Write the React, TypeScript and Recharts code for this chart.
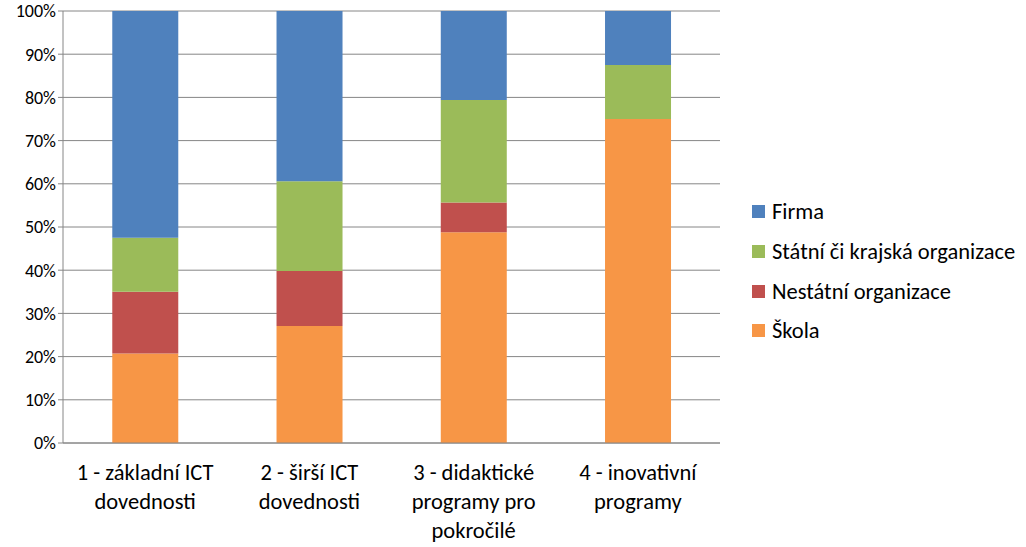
import { Bar, BarChart, CartesianGrid, XAxis, YAxis } from "recharts";

const categories = [
  ["1 - základní ICT", "dovednosti"],
  ["2 - širší ICT", "dovednosti"],
  ["3 - didaktické", "programy pro", "pokročilé"],
  ["4 - inovativní", "programy"],
];

const skola = [20.7, 27.1, 48.8, 75];
const nestatni = [14.3, 12.7, 6.9, 0];
const statni = [12.5, 20.8, 23.7, 12.5];
const firma = [52.5, 39.4, 20.6, 12.5];

const yTicks = [0, 10, 20, 30, 40, 50, 60, 70, 80, 90, 100];

const SERIES = [
  { key: "skola", label: "Škola", color: "#F79646" },
  { key: "nestatni", label: "Nestátní organizace", color: "#C0504D" },
  { key: "statni", label: "Státní či krajská organizace", color: "#9BBB59" },
  { key: "firma", label: "Firma", color: "#4F81BD" },
];

const FONT = "Carlito, Calibri, Lato, sans-serif";
const GRID = "#868686";

const data = categories.map((lines, i) => ({
  name: String(i),
  skola: skola[i],
  nestatni: nestatni[i],
  statni: statni[i],
  firma: firma[i],
}));

function CategoryTick({ x, y, payload }: any) {
  const lines = categories[Number(payload.value)];
  return (
    <text x={x} y={y} textAnchor="middle" fontFamily={FONT} fontSize={22.5} fill="#000">
      {lines.map((line, i) => (
        <tspan key={i} x={x} dy={i === 0 ? 29 : 29}>
          {line}
        </tspan>
      ))}
    </text>
  );
}

function LegendBox() {
  return (
    <div
      style={{
        position: "absolute",
        left: 752,
        top: 192,
        fontFamily: FONT,
        fontSize: 22.5,
        color: "#000",
      }}
    >
      {[...SERIES].reverse().map((s) => (
        <div key={s.key} style={{ display: "flex", alignItems: "center", height: 39.7 }}>
          <span style={{ width: 13, height: 13, background: s.color, marginRight: 7 }} />
          <span>{s.label}</span>
        </div>
      ))}
    </div>
  );
}

export default function App() {
  return (
    <div style={{ position: "absolute", left: 0, top: 0, width: 1026, height: 547, background: "#fff" }}>
      <BarChart
        width={1026}
        height={547}
        data={data}
        margin={{ top: 11, right: 306, bottom: 0, left: 0 }}
        barCategoryGap="30%"
      >
        <CartesianGrid vertical={false} stroke={GRID} />
        <XAxis
          dataKey="name"
          height={104}
          tick={<CategoryTick />}
          tickLine={false}
          axisLine={{ stroke: GRID }}
          interval={0}
        />
        <XAxis
          xAxisId="edges"
          type="number"
          domain={[0, 4]}
          ticks={[0, 1, 2, 3, 4]}
          tick={false}
          tickSize={7}
          tickLine={{ stroke: GRID }}
          axisLine={false}
          height={0}
        />
        <YAxis
          domain={[0, 100]}
          ticks={yTicks}
          width={63}
          tickFormatter={(v) => `${v}%`}
          tick={{ fontFamily: FONT, fontSize: 18, fill: "#000" }}
          tickSize={5}
          tickLine={{ stroke: GRID }}
          axisLine={{ stroke: GRID }}
        />
        {SERIES.map((s) => (
          <Bar
            key={s.key}
            dataKey={s.key}
            name={s.label}
            stackId="a"
            fill={s.color}
            isAnimationActive={false}
          />
        ))}
      </BarChart>
      <LegendBox />
    </div>
  );
}
